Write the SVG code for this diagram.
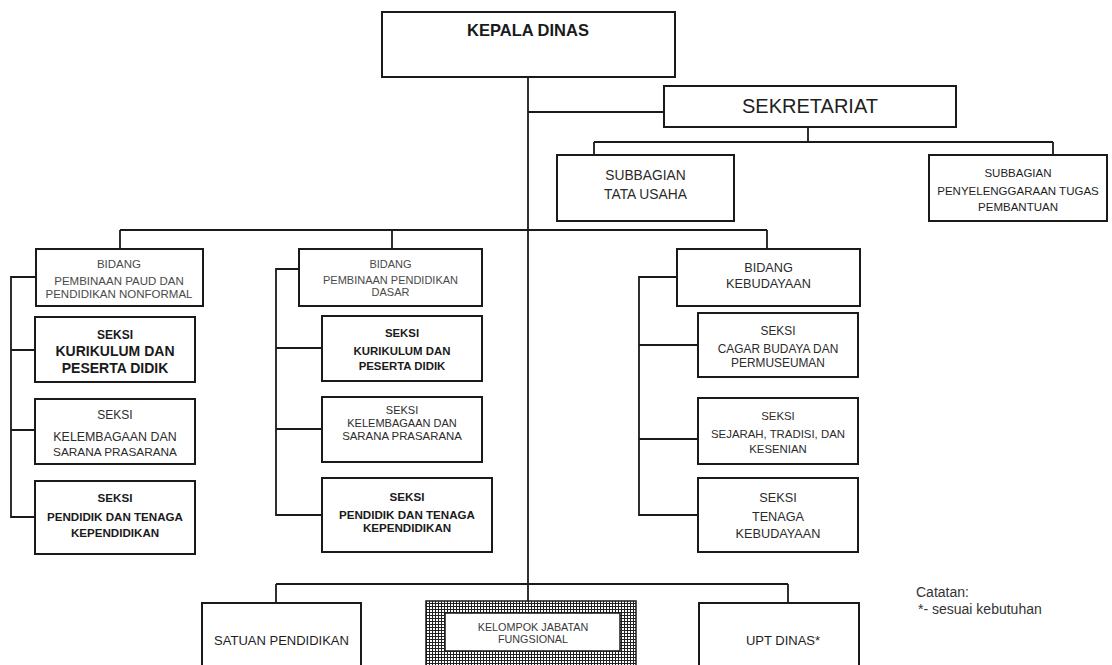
<svg xmlns="http://www.w3.org/2000/svg" width="1112" height="665" viewBox="0 0 1112 665">
<defs>
<pattern id="hatch" width="3" height="3" patternUnits="userSpaceOnUse">
<rect width="3" height="3" fill="#fff"/>
<path d="M0 0.5H3M0.5 0V3" stroke="#222" stroke-width="1" fill="none"/>
</pattern>
<style>
.b{fill:#fff;stroke:#1a1a1a;stroke-width:2}
.ln{fill:none;stroke:#1a1a1a;stroke-width:1.8}
text{font-family:"Liberation Sans",Arial,sans-serif;text-anchor:middle}
.g{fill:#4a4a4a}
.d{fill:#2b2b2b}
.k{fill:#1a1a1a;font-weight:bold}
.n{fill:#1e1e1e}
</style>
</defs>
<rect width="1112" height="665" fill="#fff"/>

<g id="connectors">
<path class="ln" d="M528 77V601"/>
<path class="ln" d="M528 112H664"/>
<path class="ln" d="M808 127V142M594 142H1053M594 142V155M1053 142V155"/>
<path class="ln" d="M120 230H767M120 230V249M392 230V249M767 230V249"/>
<path class="ln" d="M36 277H11V517H35M11 350H35M11 430H35"/>
<path class="ln" d="M299 269H276V515H322M276 348H322M276 429H322"/>
<path class="ln" d="M677 277H639V515H698M639 345H698M639 439H698"/>
<path class="ln" d="M276 584H788M276 584V603M788 584V603"/>
</g>

<g id="kepala-dinas">
<rect class="b" x="382" y="12" width="293" height="65"/>
<text class="k" x="528" y="36" font-size="16.5">KEPALA DINAS</text>
</g>

<g id="sekretariat">
<rect class="b" x="664" y="86" width="292" height="41"/>
<text class="n" x="810" y="113" font-size="20">SEKRETARIAT</text>
</g>

<g id="subbagian-tu">
<rect class="b" x="557" y="155" width="177" height="66"/>
<text class="d" x="645.5" y="180" font-size="13.8">SUBBAGIAN</text>
<text class="d" x="645.5" y="199" font-size="13.8">TATA USAHA</text>
</g>

<g id="subbagian-tp">
<rect class="b" x="929" y="155" width="178" height="66"/>
<text class="n" x="1018" y="177" font-size="11.5">SUBBAGIAN</text>
<text class="n" x="1018" y="195" font-size="11.5">PENYELENGGARAAN TUGAS</text>
<text class="n" x="1018" y="211" font-size="11.5">PEMBANTUAN</text>
</g>

<g id="bidang-paud">
<rect class="b" x="36" y="249" width="167" height="57"/>
<text class="g" x="119" y="268" font-size="11.5">BIDANG</text>
<text class="g" x="119" y="285" font-size="11.5">PEMBINAAN PAUD DAN</text>
<text class="g" x="119" y="298" font-size="11.5">PENDIDIKAN NONFORMAL</text>
</g>

<g id="seksi-kurikulum-paud">
<rect class="b" x="35" y="317" width="160" height="65"/>
<text class="k" x="115" y="339" font-size="12">SEKSI</text>
<text class="k" x="115" y="356" font-size="14">KURIKULUM DAN</text>
<text class="k" x="115" y="373" font-size="14">PESERTA DIDIK</text>
</g>

<g id="seksi-kelembagaan-paud">
<rect class="b" x="35" y="399" width="160" height="65"/>
<text class="d" x="115" y="419" font-size="12">SEKSI</text>
<text class="d" x="115" y="441" font-size="12.4">KELEMBAGAAN DAN</text>
<text class="d" x="115" y="456" font-size="11.8">SARANA PRASARANA</text>
</g>

<g id="seksi-pendidik-paud">
<rect class="b" x="35" y="481" width="160" height="73"/>
<text class="k" x="115" y="502" font-size="11.6">SEKSI</text>
<text class="k" x="115" y="521" font-size="11.6">PENDIDIK DAN TENAGA</text>
<text class="k" x="115" y="537" font-size="11.6">KEPENDIDIKAN</text>
</g>

<g id="bidang-dasar">
<rect class="b" x="299" y="249" width="183" height="57"/>
<text class="g" x="390.5" y="268" font-size="11">BIDANG</text>
<text class="g" x="390.5" y="284" font-size="11">PEMBINAAN PENDIDIKAN</text>
<text class="g" x="390.5" y="296" font-size="11">DASAR</text>
</g>

<g id="seksi-kurikulum-dasar">
<rect class="b" x="322" y="316" width="160" height="65"/>
<text class="k" x="402" y="337" font-size="11.4">SEKSI</text>
<text class="k" x="402" y="355" font-size="11.4">KURIKULUM DAN</text>
<text class="k" x="402" y="370" font-size="11.4">PESERTA DIDIK</text>
</g>

<g id="seksi-kelembagaan-dasar">
<rect class="b" x="322" y="397" width="160" height="65"/>
<text class="d" x="402" y="414" font-size="11">SEKSI</text>
<text class="d" x="402" y="427" font-size="11">KELEMBAGAAN DAN</text>
<text class="d" x="402" y="440" font-size="11.4">SARANA PRASARANA</text>
</g>

<g id="seksi-pendidik-dasar">
<rect class="b" x="322" y="478" width="170" height="74"/>
<text class="k" x="407" y="501" font-size="11.6">SEKSI</text>
<text class="k" x="407" y="519" font-size="11.6">PENDIDIK DAN TENAGA</text>
<text class="k" x="407" y="532" font-size="11.6">KEPENDIDIKAN</text>
</g>

<g id="bidang-kebudayaan">
<rect class="b" x="677" y="249" width="183" height="57"/>
<text class="d" x="768.5" y="272" font-size="12.7">BIDANG</text>
<text class="d" x="768.5" y="288" font-size="12.7">KEBUDAYAAN</text>
</g>

<g id="seksi-cagar-budaya">
<rect class="b" x="698" y="313" width="160" height="64"/>
<text class="d" x="778" y="335" font-size="11.9">SEKSI</text>
<text class="d" x="778" y="353" font-size="11.9">CAGAR BUDAYA DAN</text>
<text class="d" x="778" y="367" font-size="11.9">PERMUSEUMAN</text>
</g>

<g id="seksi-sejarah">
<rect class="b" x="698" y="398" width="160" height="66"/>
<text class="d" x="778" y="420" font-size="11.4">SEKSI</text>
<text class="d" x="778" y="438" font-size="11.4">SEJARAH, TRADISI, DAN</text>
<text class="d" x="778" y="453" font-size="11.4">KESENIAN</text>
</g>

<g id="seksi-tenaga-kebudayaan">
<rect class="b" x="698" y="478" width="160" height="74"/>
<text class="d" x="778" y="502" font-size="12.7">SEKSI</text>
<text class="d" x="778" y="521" font-size="12.7">TENAGA</text>
<text class="d" x="778" y="538" font-size="12.7">KEBUDAYAAN</text>
</g>

<g id="satuan-pendidikan">
<rect class="b" x="202" y="603" width="159" height="70"/>
<text class="n" x="281.5" y="645" font-size="13">SATUAN PENDIDIKAN</text>
</g>

<g id="kelompok-jabatan">
<rect x="426" y="601" width="210" height="70" fill="url(#hatch)" stroke="#1a1a1a" stroke-width="1.5"/>
<rect x="445" y="613" width="175" height="38" fill="#fff" stroke="#1a1a1a" stroke-width="1.5"/>
<text fill="#3a3a3a" x="533" y="631" font-size="10.8">KELOMPOK JABATAN</text>
<text fill="#3a3a3a" x="533" y="643" font-size="10.8">FUNGSIONAL</text>
</g>

<g id="upt-dinas">
<rect class="b" x="699" y="603" width="160" height="70"/>
<text class="n" x="783" y="645" font-size="13">UPT DINAS*</text>
</g>

<g id="catatan">
<text fill="#333" x="916" y="597" font-size="14" style="text-anchor:start">Catatan:</text>
<text fill="#333" x="918" y="614" font-size="14" style="text-anchor:start">*- sesuai kebutuhan</text>
</g>
</svg>
